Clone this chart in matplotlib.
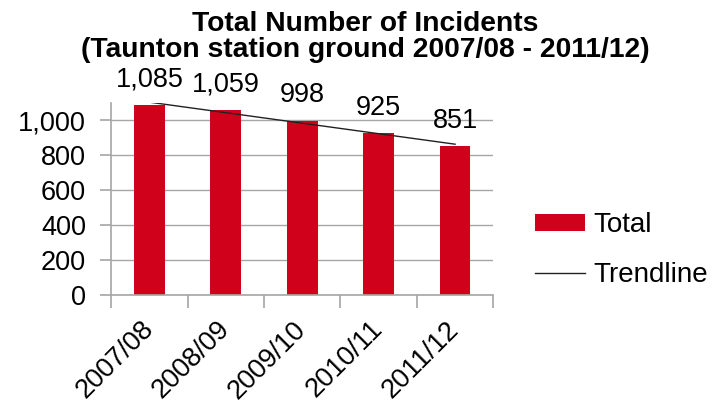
import numpy as np
import matplotlib.pyplot as plt
from matplotlib.ticker import FuncFormatter

# Incident counts per financial year
years = ["2007/08", "2008/09", "2009/10", "2010/11", "2011/12"]
totals = [1085, 1059, 998, 925, 851]

RED = "#D0021B"
GRID = "#A6A6A6"

plt.rcParams["font.family"] = ["Liberation Sans", "DejaVu Sans"]

fig = plt.figure(figsize=(7.17, 4.05), dpi=100)
ax = fig.add_axes([0.155, 0.272, 0.533, 0.474])

x = np.arange(len(years))
bars = ax.bar(x, totals, width=0.4, color=RED, label="Total", zorder=2)

# linear trendline through the yearly totals
slope, intercept = np.polyfit(x, totals, 1)
trend, = ax.plot(x, slope * x + intercept, color="#222222", lw=1.0,
                 label="Trendline", zorder=3)

for xi, v in zip(x, totals):
    ax.annotate(f"{v:,}", (xi, v), xytext=(0, 9), textcoords="offset points",
                ha="center", va="bottom", fontsize=19.5)

ax.set_xlim(-0.5, len(years) - 0.5)
ax.set_ylim(0, 1100)
ax.set_yticks(range(0, 1001, 200))
ax.yaxis.set_major_formatter(FuncFormatter(lambda v, p: f"{int(v):,}"))
ax.yaxis.grid(True, color=GRID, lw=1.0, zorder=0)

# category ticks sit between the bars
ax.set_xticks(x)
ax.set_xticklabels(years, rotation=45, ha="right", va="center",
                   rotation_mode="anchor", fontsize=19.5)
ax.set_xticks(np.arange(-0.5, len(years)), minor=True)
ax.tick_params(axis="x", which="major", length=0, pad=22)
ax.tick_params(axis="x", which="minor", length=9, color=GRID, width=1.2)
ax.tick_params(axis="y", length=8, color=GRID, width=1.2, labelsize=19.5, pad=10)

for side in ["top", "right"]:
    ax.spines[side].set_visible(False)
for side in ["left", "bottom"]:
    ax.spines[side].set_color(GRID)
    ax.spines[side].set_linewidth(1.2)

fig.text(0.509, 0.972, "Total Number of Incidents\n(Taunton station ground 2007/08 - 2011/12)",
         ha="center", va="top", fontsize=20.3, fontweight="bold", linespacing=1.0)

fig.legend([bars, trend], ["Total", "Trendline"], loc="center left",
           bbox_to_anchor=(0.746, 0.382), frameon=False, borderpad=0,
           borderaxespad=0, fontsize=20, handlelength=1.8, handleheight=0.55,
           handletextpad=0.3, labelspacing=0.85)

fig.savefig("out.png", dpi=100)
